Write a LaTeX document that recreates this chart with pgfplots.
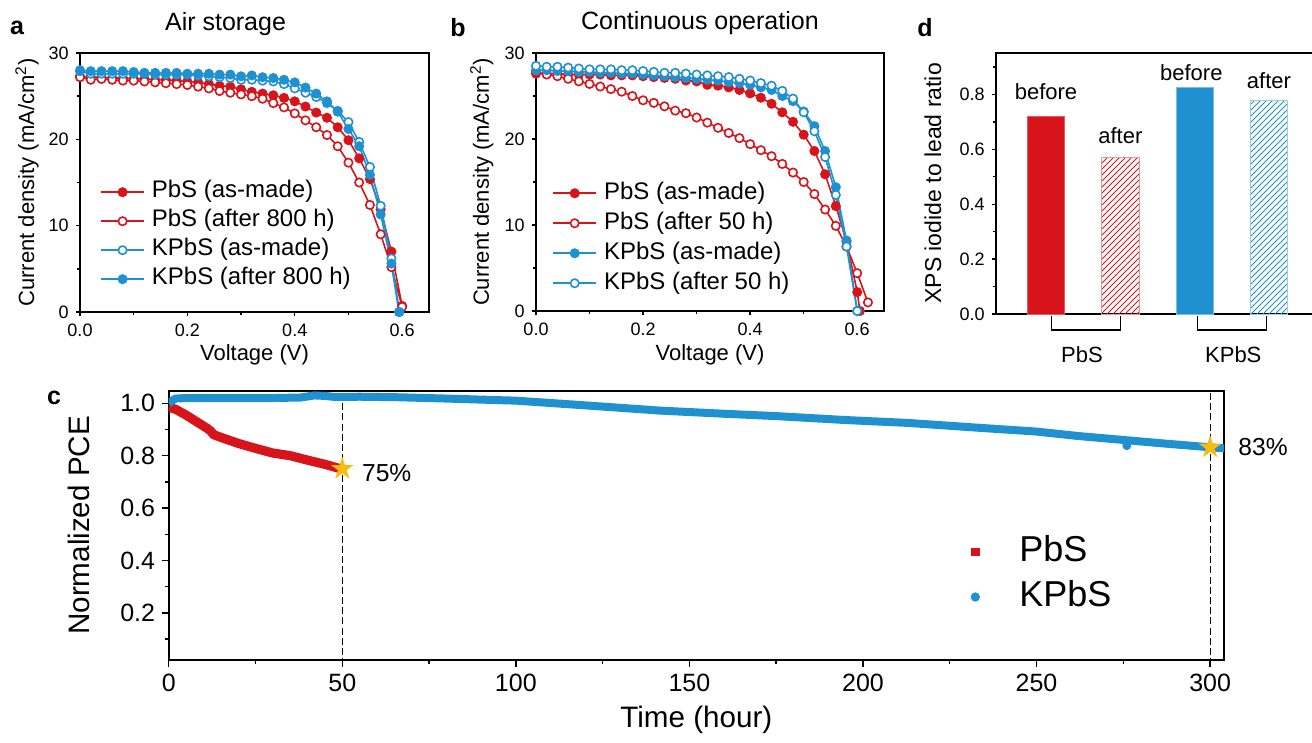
\documentclass[border=0pt]{standalone}
\usepackage{fontspec}
\setmainfont{Liberation Sans}
\usepackage{pgfplots}
\pgfplotsset{compat=1.18}
\usetikzlibrary{patterns}

\definecolor{pred}{HTML}{D7141A}
\definecolor{pblue}{HTML}{1F91D0}
\definecolor{pstar}{HTML}{F9BA12}

% filled five-pointed star
\pgfdeclareplotmark{fivestar}{%
  \pgfpathmoveto{\pgfpointpolar{90}{\pgfplotmarksize}}%
  \pgfpathlineto{\pgfpointpolar{126}{0.382\pgfplotmarksize}}%
  \pgfpathlineto{\pgfpointpolar{162}{\pgfplotmarksize}}%
  \pgfpathlineto{\pgfpointpolar{198}{0.382\pgfplotmarksize}}%
  \pgfpathlineto{\pgfpointpolar{234}{\pgfplotmarksize}}%
  \pgfpathlineto{\pgfpointpolar{270}{0.382\pgfplotmarksize}}%
  \pgfpathlineto{\pgfpointpolar{306}{\pgfplotmarksize}}%
  \pgfpathlineto{\pgfpointpolar{342}{0.382\pgfplotmarksize}}%
  \pgfpathlineto{\pgfpointpolar{18}{\pgfplotmarksize}}%
  \pgfpathlineto{\pgfpointpolar{54}{0.382\pgfplotmarksize}}%
  \pgfpathclose\pgfusepathqfill}

\newcommand{\fs}[1]{\fontsize{#1}{1.2\dimexpr#1pt\relax}\selectfont}

\pgfplotsset{
  every axis/.append style={/pgf/number format/assume math mode=true},
  panel/.style={
    scale only axis, anchor=south west,
    axis line style={line width=0.9pt},
    tick align=outside, tick pos=left,
    major tick length=2.2pt, minor tick length=1.4pt,
    every tick/.style={black, line width=0.7pt},
    tick label style={font=\fs{9}},
  },
  jv/.style={
    xmin=0, xmax=0.65, ymin=0, ymax=30,
    xtick={0,0.2,0.4,0.6}, minor xtick={0.1,0.3,0.5},
    ytick={0,10,20,30}, minor ytick={5,15,25},
    xticklabel style={/pgf/number format/.cd, fixed, fixed zerofill, precision=1},
    xlabel={Voltage (V)}, ylabel={Current density (mA/cm\textsuperscript{2})},
    legend cell align=left,
    legend image code/.code={%
      \draw[mark repeat=2,mark phase=2,#1] plot coordinates {(0pt,0pt) (10.75pt,0pt) (21.5pt,0pt)};},
  },
  fr/.style={pred, line width=0.8pt, mark=*, mark size=2.1pt, mark options={solid, fill=pred, draw=pred}},
  orr/.style={pred, line width=0.8pt, mark=*, mark size=2.1pt, mark options={solid, fill=white, draw=pred}},
  fb/.style={pblue, line width=0.8pt, mark=*, mark size=2.1pt, mark options={solid, fill=pblue, draw=pblue}},
  ob/.style={pblue, line width=0.8pt, mark=*, mark size=2.1pt, mark options={solid, fill=white, draw=pblue}},
}

\begin{document}
\begin{tikzpicture}
\path[use as bounding box] (0pt,0pt) rectangle (656pt,-371.5pt);

% ---------- a ----------
\begin{axis}[panel, jv, at={(40pt,-156pt)}, width=174.5pt, height=129.5pt,
  xlabel style={at={(0.5,-0.166)}, anchor=center, font=\fs{11}},
  ylabel style={at={(-0.152,0.5)}, anchor=center, font=\fs{11}},
  title={Air storage},
  every axis title/.style={at={(0.417,1.112)}, anchor=center, font=\fs{12.5}},
  legend style={at={(0.057,0.52)}, anchor=north west, draw=none, fill=none,
    font=\fs{12}, inner sep=0pt, column sep=3.5pt,
    nodes={inner sep=0pt, text height=10pt, text depth=4.5pt}},
]
\addplot[fr] coordinates {(0,27.3) (0.02,27.2) (0.04,27.2) (0.06,27.1) (0.08,27.1) (0.1,27.0) (0.12,27.0) (0.14,26.9) (0.16,26.9) (0.18,26.8) (0.2,26.7) (0.22,26.6) (0.24,26.4) (0.26,26.2) (0.28,26.1) (0.3,25.8) (0.32,25.5) (0.34,25.3) (0.36,25.1) (0.38,24.8) (0.4,24.4) (0.42,23.8) (0.44,23.1) (0.46,22.5) (0.48,21.4) (0.5,19.9) (0.52,17.8) (0.54,15.4) (0.56,11.9) (0.58,7.0) (0.6,0.7)};
\addlegendentry{PbS (as-made)}
\addplot[orr] coordinates {(0,27.2) (0.02,26.9) (0.04,27.0) (0.06,26.9) (0.08,26.8) (0.1,26.8) (0.12,26.7) (0.14,26.6) (0.16,26.5) (0.18,26.4) (0.2,26.3) (0.22,26.1) (0.24,25.9) (0.26,25.6) (0.28,25.4) (0.3,25.2) (0.32,25.0) (0.34,24.7) (0.36,24.2) (0.38,23.7) (0.4,23.0) (0.42,22.2) (0.44,21.4) (0.46,20.5) (0.48,19.2) (0.5,17.3) (0.52,15.0) (0.54,12.4) (0.56,9.0) (0.58,5.2) (0.6,0.6)};
\addlegendentry{PbS (after 800 h)}
\addplot[ob] coordinates {(0,27.9) (0.02,27.6) (0.04,27.6) (0.06,27.6) (0.08,27.6) (0.1,27.6) (0.12,27.6) (0.14,27.5) (0.16,27.5) (0.18,27.5) (0.2,27.5) (0.22,27.4) (0.24,27.3) (0.26,27.2) (0.28,27.1) (0.3,26.9) (0.32,26.9) (0.34,26.8) (0.36,26.7) (0.38,26.4) (0.4,25.9) (0.42,25.4) (0.44,24.9) (0.46,24.2) (0.48,23.3) (0.5,22.0) (0.52,19.7) (0.54,16.8) (0.56,12.3) (0.58,6.2) (0.595,0)};
\addlegendentry{KPbS (as-made)}
\addplot[fb] coordinates {(0,28.0) (0.02,27.9) (0.04,27.9) (0.06,27.9) (0.08,27.9) (0.1,27.8) (0.12,27.7) (0.14,27.7) (0.16,27.7) (0.18,27.7) (0.2,27.6) (0.22,27.6) (0.24,27.6) (0.26,27.5) (0.28,27.5) (0.3,27.3) (0.32,27.4) (0.34,27.2) (0.36,27.1) (0.38,26.9) (0.4,26.6) (0.42,26.0) (0.44,25.3) (0.46,24.4) (0.48,23.2) (0.5,21.2) (0.52,19.2) (0.54,15.9) (0.56,11.3) (0.58,5.6) (0.594,0)};
\addlegendentry{KPbS (after 800 h)}
\end{axis}

% ---------- b ----------
\begin{axis}[panel, jv, at={(268pt,-155.5pt)}, width=174pt, height=129pt,
  xlabel style={at={(0.5,-0.17)}, anchor=center, font=\fs{11}},
  ylabel style={at={(-0.156,0.5)}, anchor=center, font=\fs{11}},
  title={Continuous operation},
  every axis title/.style={at={(0.471,1.116)}, anchor=center, font=\fs{12.5}},
  legend style={at={(0.046,0.516)}, anchor=north west, draw=none, fill=none,
    font=\fs{12}, inner sep=0pt, column sep=3.5pt,
    nodes={inner sep=0pt, text height=10.5pt, text depth=4.5pt}},
]
\addplot[fr] coordinates {(0,27.6) (0.02,27.6) (0.04,27.6) (0.06,27.5) (0.08,27.5) (0.1,27.5) (0.12,27.5) (0.14,27.4) (0.16,27.4) (0.18,27.4) (0.2,27.3) (0.22,27.2) (0.24,27.1) (0.26,27.0) (0.28,26.8) (0.3,26.7) (0.32,26.3) (0.34,26.2) (0.36,26.0) (0.38,25.7) (0.4,25.3) (0.42,24.8) (0.44,24.1) (0.46,23.1) (0.48,22.0) (0.5,20.5) (0.52,18.6) (0.54,15.9) (0.56,12.2) (0.58,8.1) (0.6,2.2) (0.605,0)};
\addlegendentry{PbS (as-made)}
\addplot[orr] coordinates {(0,27.8) (0.02,27.5) (0.04,27.3) (0.06,27.0) (0.08,26.7) (0.1,26.4) (0.12,26.1) (0.14,25.8) (0.16,25.5) (0.18,25.0) (0.2,24.5) (0.22,24.2) (0.24,23.8) (0.26,23.3) (0.28,23.0) (0.3,22.5) (0.32,21.9) (0.34,21.3) (0.36,20.7) (0.38,20.1) (0.4,19.4) (0.42,18.7) (0.44,18.0) (0.46,17.1) (0.48,16.1) (0.5,15.0) (0.52,13.6) (0.54,11.8) (0.56,9.9) (0.58,7.5) (0.6,4.4) (0.62,1.0)};
\addlegendentry{PbS (after 50 h)}
\addplot[fb] coordinates {(0,28.0) (0.02,28.0) (0.04,27.9) (0.06,27.9) (0.08,27.8) (0.1,27.8) (0.12,27.7) (0.14,27.7) (0.16,27.6) (0.18,27.6) (0.2,27.5) (0.22,27.4) (0.24,27.3) (0.26,27.2) (0.28,27.1) (0.3,27.0) (0.32,26.9) (0.34,26.8) (0.36,26.6) (0.38,26.5) (0.4,26.3) (0.42,26.0) (0.44,25.7) (0.46,25.0) (0.48,24.4) (0.5,23.2) (0.52,21.5) (0.54,18.6) (0.56,14.4) (0.58,8.2) (0.6,0)};
\addlegendentry{KPbS (as-made)}
\addplot[ob] coordinates {(0,28.5) (0.02,28.4) (0.04,28.4) (0.06,28.3) (0.08,28.2) (0.1,28.1) (0.12,28.1) (0.14,28.1) (0.16,28.0) (0.18,28.0) (0.2,27.9) (0.22,27.8) (0.24,27.7) (0.26,27.7) (0.28,27.6) (0.3,27.5) (0.32,27.4) (0.34,27.3) (0.36,27.2) (0.38,27.0) (0.4,26.8) (0.42,26.5) (0.44,26.2) (0.46,25.6) (0.48,24.7) (0.5,23.1) (0.52,20.9) (0.54,17.9) (0.56,13.5) (0.58,7.5) (0.6,0)};
\addlegendentry{KPbS (after 50 h)}
\end{axis}

% ---------- d ----------
\begin{axis}[panel, at={(498pt,-157pt)}, width=161pt, height=130.65pt,
  xmin=0.327, xmax=4.66, ymin=0, ymax=0.952,
  xtick=\empty, ytick={0,0.2,0.4,0.6,0.8}, minor ytick={0.1,0.3,0.5,0.7,0.9},
  yticklabel style={/pgf/number format/.cd, fixed, fixed zerofill, precision=1},
  ylabel={XPS iodide to lead ratio},
  ylabel style={at={(-0.196,0.5)}, anchor=center, font=\fs{11.5}},
  clip=false,
]
\addplot[ybar, bar width=0.5, bar shift=0pt, fill=pred, draw=pred!70, line width=0.4pt] coordinates {(1,0.72)};
\addplot[ybar, bar width=0.5, bar shift=0pt, pattern=north east lines, pattern color=pred, draw=pred!45, line width=0.4pt] coordinates {(2,0.569)};
\addplot[ybar, bar width=0.5, bar shift=0pt, fill=pblue, draw=pblue!60, line width=0.4pt] coordinates {(3,0.824)};
\addplot[ybar, bar width=0.5, bar shift=0pt, pattern=north east lines, pattern color=pblue, draw=pblue!45, line width=0.4pt] coordinates {(4,0.778)};
\addplot[black, line width=0.7pt, mark=none] coordinates {(1.07,-0.007) (1.07,-0.058) (2.0,-0.058) (2.0,-0.007)};
\addplot[black, line width=0.7pt, mark=none] coordinates {(3.04,-0.007) (3.04,-0.058) (3.97,-0.058) (3.97,-0.007)};
\node[font=\fs{11}] at (axis cs:1,0.81) {before};
\node[font=\fs{11}] at (axis cs:2,0.648) {after};
\node[font=\fs{11}] at (axis cs:2.955,0.879) {before};
\node[font=\fs{11}] at (axis cs:4,0.85) {after};
\node[font=\fs{11}] at (axis cs:1.483,-0.149) {PbS};
\node[font=\fs{11}] at (axis cs:3.52,-0.149) {KPbS};
\end{axis}

% ---------- c ----------
\begin{axis}[panel, at={(84.35pt,-330pt)}, width=527.65pt, height=134.65pt,
  xmin=0, xmax=304, ymin=0.02, ymax=1.048,
  xtick={0,50,100,150,200,250,300}, minor xtick={25,75,125,175,225,275},
  ytick={0.2,0.4,0.6,0.8,1.0}, minor ytick={0.1,0.3,0.5,0.7,0.9},
  yticklabel style={/pgf/number format/.cd, fixed, fixed zerofill, precision=1},
  major tick length=3.3pt, minor tick length=2pt,
  tick label style={font=\fs{12.5}},
  xlabel={Time (hour)}, ylabel={Normalized PCE},
  xlabel style={at={(0.5,-0.223)}, anchor=center, font=\fs{14.8}},
  ylabel style={at={(-0.085,0.5)}, anchor=center, font=\fs{14.8}},
  legend cell align=left,
  legend image code/.code={\path[draw=none, fill=none] (0pt,0pt) -- (20pt,0pt); \draw[#1] plot coordinates {(2pt,0pt)};},
  legend style={at={(0.760,0.486)}, anchor=north west, draw=none, fill=none,
    font=\fs{18}, inner sep=0pt, column sep=4pt,
    nodes={inner sep=0pt, text height=16pt, text depth=6.5pt}},
]
\addplot[forget plot, black, line width=0.6pt, dash pattern=on 3.5pt off 1.6pt] coordinates {(50,0) (50,1.1)};
\addplot[forget plot, black, line width=0.6pt, dash pattern=on 3.5pt off 1.6pt] coordinates {(300,0) (300,1.1)};
\addplot[forget plot, pred, line width=4.6pt] coordinates {(0,0.985) (2,0.977) (5,0.955) (8,0.93) (11,0.905) (12,0.895) (13,0.88) (15,0.87) (20,0.847) (25,0.828) (30,0.81) (35,0.80) (40,0.783) (45,0.767) (50,0.748)};
\addplot[forget plot, pblue, line width=4pt] coordinates {(0,0.998) (1,1.01) (2,1.018) (5,1.02) (10,1.02) (20,1.02) (30,1.02) (38,1.022) (42,1.03) (45,1.028) (48,1.024) (55,1.025) (66,1.023) (80,1.018) (100,1.01) (120,0.992) (141.6,0.972) (160,0.96) (175,0.951) (195,0.936) (213,0.925) (235,0.905) (250,0.892) (262,0.875) (275,0.86) (288,0.845) (300,0.832) (304,0.828)};
\addplot[forget plot, only marks, pblue, mark=*, mark size=2pt] coordinates {(276,0.838)};
\addplot[forget plot, only marks, pstar, mark=fivestar, mark size=6pt] coordinates {(50,0.75) (300,0.832)};
\addlegendimage{only marks, mark=square*, pred, mark size=1.8pt}
\addlegendentry{PbS}
\addlegendimage{only marks, mark=*, pblue, mark size=2.1pt}
\addlegendentry{KPbS}
\node[font=\fs{12.3}] at (axis cs:62.8,0.732) {75\%};
\end{axis}
\node[font=\fs{12.3}] at (631.5pt,-223.3pt) {83\%};

% panel letters
\node[font=\bfseries\fs{12.5}] at (8.5pt,-14pt) {a};
\node[font=\bfseries\fs{12.5}] at (229pt,-14pt) {b};
\node[font=\bfseries\fs{12.5}] at (462.5pt,-14pt) {d};
\node[font=\bfseries\fs{12.5}] at (27pt,-199pt) {c};
\end{tikzpicture}
\end{document}
